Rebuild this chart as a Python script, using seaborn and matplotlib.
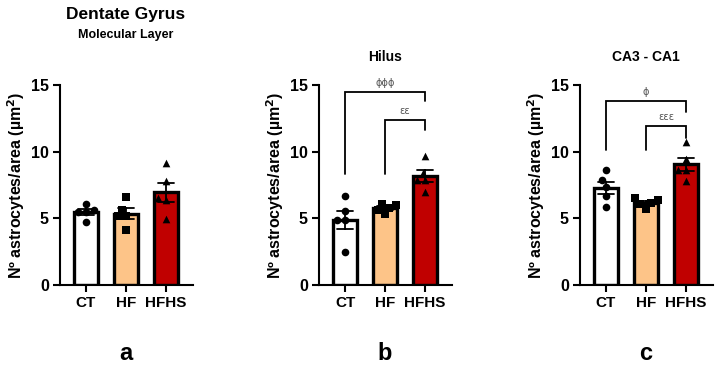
import pandas as pd
import matplotlib.pyplot as plt
import seaborn as sns

# -------------------------------
# DATA (individual animals per group)
# -------------------------------
groups = ['CT', 'HF', 'HFHS']
colors = ['#FFFFFF', '#FDC488', '#C00000']
markers = ['o', 's', '^']

# Dentate gyrus - molecular layer
dg_ct = [6.1, 4.7, 5.5, 5.5, 5.6]
dg_hf = [6.6, 5.65, 4.15, 5.15, 5.15]
dg_hfhs = [9.15, 7.8, 6.5, 6.4, 4.95]

# Hilus
hil_ct = [6.65, 5.55, 4.9, 4.85, 2.5]
hil_hf = [6.1, 6.0, 5.8, 5.6, 5.3]
hil_hfhs = [9.65, 8.4, 7.9, 7.85, 7.0]

# CA3 - CA1
ca_ct = [8.65, 7.85, 7.35, 6.65, 5.85]
ca_hf = [6.5, 6.4, 6.15, 6.1, 5.7]
ca_hfhs = [10.7, 9.45, 8.65, 8.6, 7.8]

panel_titles = ['', 'Hilus', 'CA3 - CA1']
panel_letters = ['a', 'b', 'c']

# significance brackets: (group i, group j, label)
hil_sig = [(0, 2, 'ϕϕϕ'), (1, 2, 'εε')]
ca_sig = [(0, 2, 'ϕ'), (1, 2, 'εεε')]


def make_df(ct, hf, hfhs):
    return pd.DataFrame({
        'group': ['CT'] * len(ct) + ['HF'] * len(hf) + ['HFHS'] * len(hfhs),
        'value': ct + hf + hfhs,
    })


panels = [
    make_df(dg_ct, dg_hf, dg_hfhs),
    make_df(hil_ct, hil_hf, hil_hfhs),
    make_df(ca_ct, ca_hf, ca_hfhs),
]
sigs = [[], hil_sig, ca_sig]
# bracket geometry per panel: (bar height, left leg end, right leg end)
bracket_pos = [[], [(14.5, 8.3, 13.8), (12.4, 8.3, 11.65)],
               [(13.8, 10.15, 13.0), (11.9, 10.15, 11.0)]]

# -------------------------------
# PLOT
# -------------------------------
sns.set_style('ticks')
plt.rcParams['font.family'] = ['Liberation Sans', 'DejaVu Sans']
plt.rcParams['font.weight'] = 'bold'
plt.rcParams['text.color'] = 'black'
plt.rcParams['axes.labelcolor'] = 'black'
plt.rcParams['xtick.color'] = 'black'
plt.rcParams['ytick.color'] = 'black'
plt.rcParams['axes.edgecolor'] = 'black'

fig = plt.figure(figsize=(7.2, 3.68), dpi=100)
lefts = [60, 319, 580]

for k, df in enumerate(panels):
    ax = fig.add_axes([lefts[k] / 720, (368 - 285) / 368, 133 / 720, 200 / 368])

    sns.barplot(data=df, x='group', y='value', hue='group', order=groups,
                palette=colors, saturation=1, errorbar='se', width=0.62,
                capsize=0.4, edgecolor='black', linewidth=2.4,
                err_kws={'color': 'black', 'linewidth': 1.3},
                legend=False, ax=ax)

    for g, m in zip(groups, markers):
        sns.swarmplot(data=df[df['group'] == g], x='group', y='value',
                      order=groups, color='black', marker=m, size=5.5,
                      ax=ax, zorder=4)

    # brackets
    for (i, j, lab), (h, yl, yr) in zip(sigs[k], bracket_pos[k]):
        ax.plot([i, i, j, j], [yl, h, h, yr], color='black', lw=1.3,
                solid_joinstyle='miter', clip_on=False)
        ax.text((i + j) / 2, h + 0.3, lab, ha='center', va='bottom',
                fontsize=7, color='#555555', family=['DejaVu Sans'],
                fontweight='normal')

    ax.set_xlim(-0.65, 2.675)
    ax.set_ylim(0, 15)
    ax.set_yticks([0, 5, 10, 15])
    ax.set_xlabel('')
    ax.set_ylabel('Nº astrocytes/area (µm$^\\mathbf{2}$)', fontsize=11.5,
                  fontweight='bold', labelpad=3)
    ax.tick_params(axis='both', width=1.5, length=5, pad=3)
    ax.tick_params(axis='x', labelsize=11)
    ax.tick_params(axis='y', labelsize=11.5)
    for lab in ax.get_xticklabels() + ax.get_yticklabels():
        lab.set_fontweight('bold')
    sns.despine(ax=ax)
    for sp in ['left', 'bottom']:
        ax.spines[sp].set_linewidth(1.5)

    cx = (lefts[k] + 26 + 40) / 720
    if panel_titles[k]:
        fig.text(cx, 1 - 57 / 368, panel_titles[k], ha='center', va='center',
                 fontsize=10, fontweight='bold')
    fig.text(cx, 1 - 353 / 368, panel_letters[k], ha='center', va='center',
             fontsize=17, fontweight='bold')

fig.text((60 + 66) / 720, 1 - 14 / 368, 'Dentate Gyrus', ha='center',
         va='center', fontsize=12.5, fontweight='bold')
fig.text((60 + 66) / 720, 1 - 35 / 368, 'Molecular Layer', ha='center',
         va='center', fontsize=9, fontweight='bold')

plt.savefig('out.png', dpi=100)
